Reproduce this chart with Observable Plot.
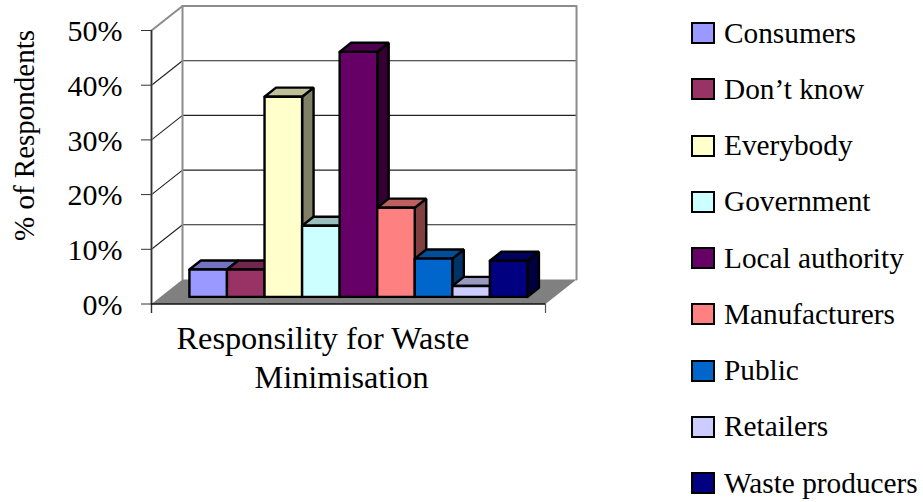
<!DOCTYPE html>
<html>
<head>
<meta charset="utf-8">
<script src="https://cdn.jsdelivr.net/npm/d3@7"></script>
<script src="https://cdn.jsdelivr.net/npm/@observablehq/plot@0.6"></script>
<style>
  html, body { margin: 0; padding: 0; background: #fff; }
  #chart { position: relative; width: 923px; height: 502px; overflow: hidden; font-family: "Liberation Serif", serif; color: #000; }
  #chart svg { position: absolute; left: 0; top: 0; }
  #legend { position: absolute; left: 691px; top: 5px; font-size: 29.3px; }
  #legend div { height: 56.25px; display: flex; align-items: center; white-space: nowrap; }
  #legend i { display: block; width: 24px; height: 22px; box-sizing: border-box; border: 2.5px solid #000; margin-right: 9px; }
</style>
</head>
<body>
<div id="chart"></div>
<script>
// Survey answers, percent of respondents
const categories = ["Consumers", "Don’t know", "Everybody", "Government", "Local authority", "Manufacturers", "Public", "Retailers", "Waste producers"];
const shares = [5, 5, 36.6, 13, 44.8, 16.3, 7, 2, 6.6];
const colours = ["#9999FF", "#993366", "#FFFFCC", "#CCFFFF", "#660066", "#FF8080", "#0066CC", "#CCCCFF", "#000080"];
const yTicks = [0, 10, 20, 30, 40, 50];

// Oblique projection: how far one unit of depth moves a point, in scale units
const depthX = 0.826;
const depthY = 4.48;
const xMin = -0.77;
const xMax = 9.72;
const barDepth = [0.29, 0.66];
const project = (x, y, d) => ({x: x + d * depthX, y: y + d * depthY});

const shade = (c, k) => {
  const {r, g, b} = d3.rgb(c);
  return d3.rgb(r * k, g * k, b * k).formatHex();
};

// Closed polygon as a run of vertices sharing one id
const polygon = (id, fill, corners) =>
  [...corners, corners[0]].map((p) => ({id, fill, ...project(...p)}));

const [d0, d1] = barDepth;
const bars = categories.flatMap((name, i) => {
  const v = shares[i];
  const c = colours[i];
  return [
    ...polygon(`${name} side`, shade(c, 0.5), [[i + 1, 0, d0], [i + 1, 0, d1], [i + 1, v, d1], [i + 1, v, d0]]),
    ...polygon(`${name} top`, shade(c, 0.75), [[i, v, d0], [i + 1, v, d0], [i + 1, v, d1], [i, v, d1]]),
    ...polygon(`${name} front`, c, [[i, 0, d0], [i + 1, 0, d0], [i + 1, v, d0], [i, v, d0]])
  ];
});

const floor = polygon("floor", "#808080", [[xMin, 0, 0], [xMax, 0, 0], [xMax, 0, 1], [xMin, 0, 1]]);
const wallFrame = [[xMin, 0, 0], [xMin, 50, 0], [xMin, 50, 1], [xMax, 50, 1], [xMax, 0, 1]].map((p) => project(...p));
const backEdge = [[xMin, 50, 1], [xMin, 0, 1]].map((p) => project(...p));
const gridLines = yTicks.flatMap((t) =>
  [[xMin, t, 0], [xMin, t, 1], [xMax, t, 1]].map((p) => ({t, ...project(...p)}))
);

const plot = Plot.plot({
  width: 680,
  height: 502,
  marginTop: 0,
  marginBottom: 0,
  marginLeft: 151,
  marginRight: 135,
  style: {fontFamily: "'Liberation Serif', serif", fontSize: "29px", color: "#000", background: "transparent"},
  x: {domain: [xMin, xMax], range: [151, 545], axis: null},
  y: {domain: [0, 50], range: [303.5, 30], axis: null},
  marks: [
    Plot.line(floor, {x: "x", y: "y", z: "id", fill: "fill", stroke: null}),
    Plot.line(gridLines.filter((g) => g.t > 0 && g.t < 50), {x: "x", y: "y", z: "t", stroke: "#222", strokeWidth: 1.1}),
    Plot.line(wallFrame, {x: "x", y: "y", stroke: "#8c8c8c", strokeWidth: 2}),
    Plot.line(backEdge, {x: "x", y: "y", stroke: "#8c8c8c", strokeWidth: 2}),
    Plot.ruleX([xMin], {y1: 50, y2: -1.74, stroke: "#333", strokeWidth: 1.4}),
    Plot.ruleX([xMax], {y1: 0, y2: -1.74, stroke: "#555", strokeWidth: 1.2}),
    Plot.ruleY([0], {x1: xMin, x2: xMax, stroke: "#111", strokeWidth: 1.6}),
    // Tick marks and tick labels are separate so the labels can sit a pixel lower
    Plot.axisY(yTicks, {anchor: "left", tickSize: 10, stroke: "#333", fill: "none", label: null}),
    Plot.axisY(yTicks, {
      anchor: "left",
      tickSize: 0,
      tickPadding: 29,
      stroke: "none",
      fontSize: 30,
      fill: "#000",
      dy: 1,
      tickFormat: (d) => `${d}%`,
      label: null
    }),
    Plot.line(bars, {x: "x", y: "y", z: "id", fill: "fill", stroke: "#000", strokeWidth: 2.4, strokeLinejoin: "miter"}),
    Plot.text(["% of Respondents"], {frameAnchor: "top-left", dx: -127, dy: 135, rotate: -90, textAnchor: "middle", lineAnchor: "middle", fontSize: 29, fill: "#000"}),
    Plot.text(["Responsility for Waste"], {frameAnchor: "top-left", dx: 25, dy: 338, textAnchor: "start", lineAnchor: "middle", fontSize: 32.3, fill: "#000"}),
    Plot.text(["Minimisation"], {frameAnchor: "top-left", dx: 103, dy: 377, textAnchor: "start", lineAnchor: "middle", fontSize: 32.3, fill: "#000"})
  ]
});

const chart = document.getElementById("chart");
chart.append(plot);

// Legend beside the plot
const legend = document.createElement("div");
legend.id = "legend";
categories.forEach((name, i) => {
  const row = document.createElement("div");
  const swatch = document.createElement("i");
  swatch.style.background = colours[i];
  row.append(swatch, name);
  legend.append(row);
});
chart.append(legend);
</script>
</body>
</html>
